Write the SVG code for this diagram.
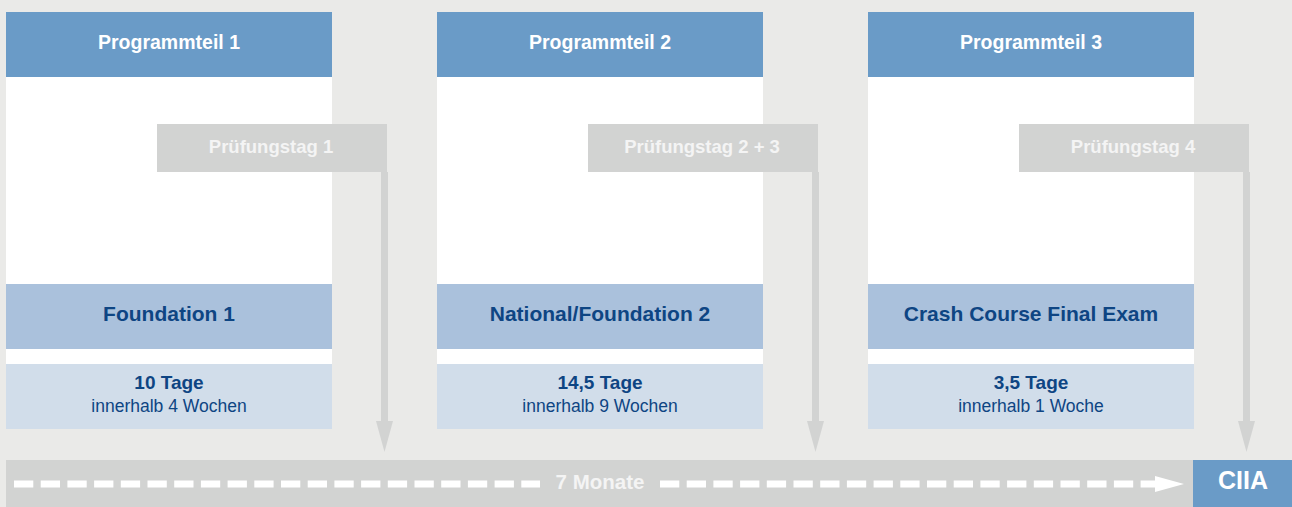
<svg xmlns="http://www.w3.org/2000/svg" width="1292" height="507" viewBox="0 0 1292 507">
<defs>
<style>
.bg{fill:#EAEAE8}
.hdr{fill:#6A9BC7}
.body{fill:#FFFFFF}
.band{fill:#AAC1DC}
.lite{fill:#D1DDEA}
.gray{fill:#D2D3D2}
text{font-family:"Liberation Sans",Arial,sans-serif;text-anchor:middle}
.ht{fill:#FFFFFF;font-weight:bold;font-size:19.5px}
.pt{fill:#F4F4F4;font-weight:bold;font-size:18.5px}
.ft{fill:#0E4583;font-weight:bold;font-size:21px}
.dt{fill:#0E4583;font-weight:bold;font-size:19px}
.wt{fill:#0E4583;font-size:17.5px}
.mt{fill:#F4F4F4;font-weight:bold;font-size:20.5px}
.ct{fill:#FFFFFF;font-weight:bold;font-size:25px}
.dash{stroke:#FFFFFF;stroke-width:7;stroke-dasharray:19.3 7.4;fill:none}
</style>
</defs>
<rect class="bg" x="0" y="0" width="1292" height="507"/>

<g id="node-programmteil-1">
<rect class="hdr" x="6" y="12" width="326" height="65"/>
<rect class="body" x="6" y="77" width="326" height="207"/>
<rect class="band" x="6" y="284" width="326" height="65"/>
<rect class="body" x="6" y="349" width="326" height="15"/>
<rect class="lite" x="6" y="364" width="326" height="65"/>
<text class="ht" x="169" y="49">Programmteil 1</text>
<text class="ft" x="169" y="321">Foundation 1</text>
<text class="dt" x="169" y="389">10 Tage</text>
<text class="wt" x="169" y="412">innerhalb 4 Wochen</text>
</g>

<g id="node-programmteil-2">
<rect class="hdr" x="437" y="12" width="326" height="65"/>
<rect class="body" x="437" y="77" width="326" height="207"/>
<rect class="band" x="437" y="284" width="326" height="65"/>
<rect class="body" x="437" y="349" width="326" height="15"/>
<rect class="lite" x="437" y="364" width="326" height="65"/>
<text class="ht" x="600" y="49">Programmteil 2</text>
<text class="ft" x="600" y="321">National/Foundation 2</text>
<text class="dt" x="600" y="389">14,5 Tage</text>
<text class="wt" x="600" y="412">innerhalb 9 Wochen</text>
</g>

<g id="node-programmteil-3">
<rect class="hdr" x="868" y="12" width="326" height="65"/>
<rect class="body" x="868" y="77" width="326" height="207"/>
<rect class="band" x="868" y="284" width="326" height="65"/>
<rect class="body" x="868" y="349" width="326" height="15"/>
<rect class="lite" x="868" y="364" width="326" height="65"/>
<text class="ht" x="1031" y="49">Programmteil 3</text>
<text class="ft" x="1031" y="321">Crash Course Final Exam</text>
<text class="dt" x="1031" y="389">3,5 Tage</text>
<text class="wt" x="1031" y="412">innerhalb 1 Woche</text>
</g>

<g id="node-timeline">
<rect class="gray" x="6" y="460" width="1187" height="47"/>
<text class="mt" x="600" y="489">7 Monate</text>
</g>

<g id="node-ciia">
<rect class="hdr" x="1193" y="460" width="99" height="47"/>
<text class="ct" x="1243" y="489">CIIA</text>
</g>

<g id="connectors">
<g id="conn-pruefungstag-1">
<rect class="gray" x="157" y="124" width="230" height="48"/>
<rect class="gray" x="381" y="172" width="7" height="250"/>
<polygon class="gray" points="376,421 393,421 384.5,452"/>
<text class="pt" x="271" y="153">Prüfungstag 1</text>
</g>
<g id="conn-pruefungstag-2-3">
<rect class="gray" x="588" y="124" width="230" height="48"/>
<rect class="gray" x="812" y="172" width="7" height="250"/>
<polygon class="gray" points="807,421 824,421 815.5,452"/>
<text class="pt" x="702" y="153">Prüfungstag 2 + 3</text>
</g>
<g id="conn-pruefungstag-4">
<rect class="gray" x="1019" y="124" width="230" height="48"/>
<rect class="gray" x="1243" y="172" width="7" height="250"/>
<polygon class="gray" points="1238,421 1255,421 1246.5,452"/>
<text class="pt" x="1133" y="153">Prüfungstag 4</text>
</g>
<g id="conn-timeline">
<line class="dash" x1="14" y1="484" x2="540" y2="484"/>
<line class="dash" x1="660" y1="484" x2="1160" y2="484"/>
<polygon fill="#FFFFFF" points="1155,476 1184,484 1155,492"/>
</g>
</g>
</svg>
